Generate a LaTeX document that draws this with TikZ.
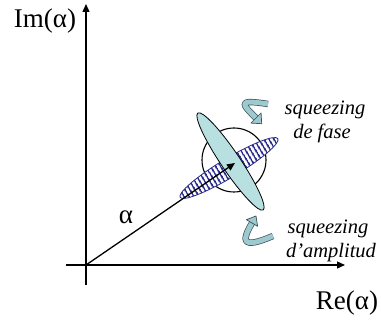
\documentclass[tikz,border=0pt]{standalone}
\usepackage{fontspec}
\setmainfont{Liberation Serif}
\usetikzlibrary{arrows.meta, shapes.geometric, patterns.meta, positioning}
\definecolor{palecyan}{rgb}{0.72, 0.88, 0.88}
\definecolor{arrowfill}{rgb}{0.62, 0.79, 0.81}
\definecolor{arrowedge}{rgb}{0.22, 0.32, 0.35}
\definecolor{stripe}{rgb}{0.17, 0.17, 0.55}

\begin{document}
\begin{tikzpicture}[x=1pt, y=-1pt, line join=round,
    axis/.style={line width=1.3pt, -{Triangle[length=8pt,width=7pt]}},
    lbl/.style={font=\fontsize{27}{30}\selectfont, inner sep=0pt, anchor=base},
    squeeze/.style={font=\fontsize{20.5}{24}\selectfont\itshape, inner sep=0pt, anchor=base},
    turn/.style={line width=0.7pt, draw=arrowedge, double=arrowfill, double distance=5pt},
    turnhead/.style={fill=arrowfill, draw=arrowedge, line width=0.7pt}]
    \useasboundingbox (0,0) rectangle (381,320);

    \coordinate (O) at (86,265);
    \coordinate (xl) at (66,265);
    \coordinate (xr) at (345,265);
    \coordinate (yb) at (86,285);
    \coordinate (yt) at (86,4);
    \coordinate (tip) at (235,163);

    % axes
    \draw[axis] (xl) -- (xr);
    \draw[axis] (yb) -- (yt);
    \node[lbl] (im) at (45,28) {Im(α)};
    \node[lbl] (re) at (347,310) {Re(α)};

    % coherent state and the two squeezed states
    \node[circle, draw, line width=1.1pt, minimum size=64pt, inner sep=0pt] (coh) at (234,160) {};
    \node[ellipse, draw=stripe, line width=0.8pt, preaction={fill=white},
          pattern={Lines[angle=121, distance=4pt, line width=2pt]}, pattern color=stripe,
          minimum width=114pt, minimum height=19pt, inner sep=0pt, rotate=31] (fase) at (229,168) {};
    \node[ellipse, draw, line width=0.8pt, fill=palecyan,
          minimum width=117pt, minimum height=19pt, inner sep=0pt, rotate=-56] (ampl) at (230.5,161.5) {};

    % alpha
    \draw[line width=1.3pt, -{Triangle[length=8pt,width=7pt]}] (O) -- (tip);
    \node[lbl] (a) at (126,224) {α};

    % turning arrows
    \draw[turn] (268,104) .. controls (236,99) and (242,104) .. (256,118);
    \filldraw[turnhead] (250.9,123.1) -- (261.7,123.7) -- (261.1,112.9) -- cycle;
    \draw[turn] (273,236) .. controls (240,250) and (242,240.4) .. (252,223);
    \filldraw[turnhead] (257.6,226.3) -- (256,216) -- (246.4,219.7) -- cycle;

    \node[squeeze] (sf1) at (325,115) {squeezing};
    \node[squeeze] (sf2) at (322,139) {de fase};
    \node[squeeze] (sa1) at (328,234) {squeezing};
    \node[squeeze] (sa2) at (331,258) {d’amplitud};
\end{tikzpicture}
\end{document}
